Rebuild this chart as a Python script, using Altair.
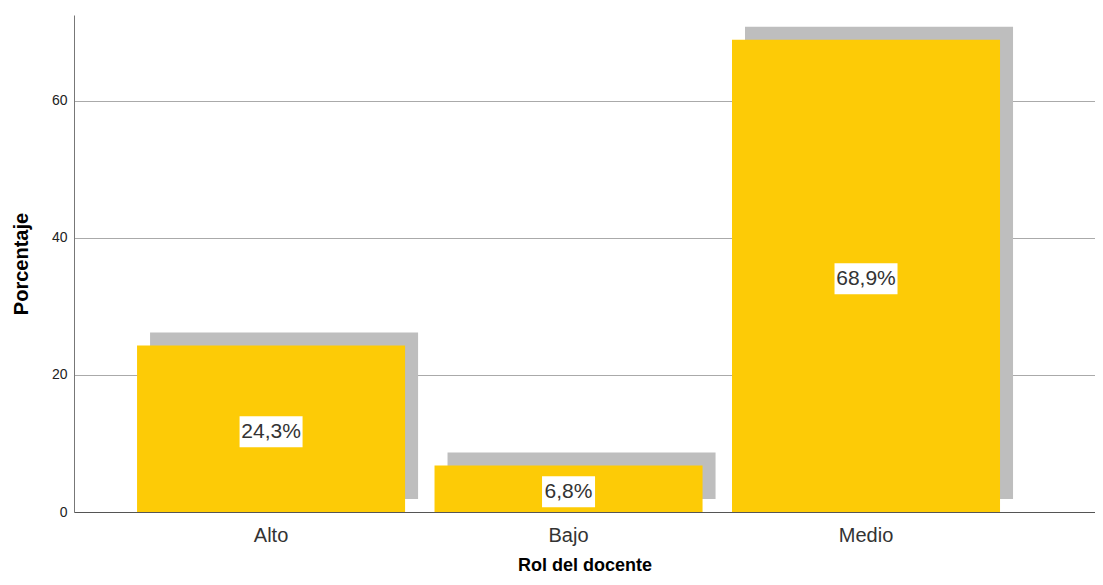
import altair as alt
import pandas as pd

categories = ["Alto", "Bajo", "Medio"]
percentages = [24.3, 6.8, 68.9]
value_labels = ["24,3%", "6,8%", "68,9%"]
y_ticks = [0, 20, 40, 60]

df = pd.DataFrame({"cat": categories, "pct": percentages, "label": value_labels})

FONT = "Liberation Sans"

xscale = alt.Scale(domain=categories, paddingInner=0.099, paddingOuter=0.2656, align=0.399)
yscale = alt.Scale(domain=[0, 72.5], nice=False, zero=True)

x_axis = alt.Axis(
    title="Rol del docente", labelAngle=0, ticks=False, grid=False,
    labelFontSize=20, labelPadding=13, labelColor="#333333", labelFont=FONT,
    titleFontSize=18, titleFontWeight="bold", titlePadding=11, titleColor="#000000", titleFont=FONT,
    domainColor="#555555", domainWidth=1,
)
y_axis = alt.Axis(
    title="Porcentaje", values=y_ticks, ticks=False, grid=True,
    gridColor="#aaaaaa", gridWidth=1,
    labelFontSize=14, labelPadding=7, labelColor="#222222", labelFont=FONT,
    titleFontSize=20, titleFontWeight="bold", titlePadding=20, titleColor="#000000", titleFont=FONT,
    domainColor="#777777", domainWidth=1,
)

x = alt.X("cat:N", scale=xscale, sort=categories, axis=x_axis)


def yenc(field):
    return alt.Y(field, scale=yscale, axis=y_axis)


base = alt.Chart(df)

shadow = base.mark_bar(
    color="#bebebe", xOffset=13, x2Offset=13, yOffset=-13, y2Offset=-13
).encode(
    x=x,
    y=yenc("pct:Q"),
)

bars = base.mark_bar(color="#fdcb06").encode(
    x=x,
    y=yenc("pct:Q"),
)

boxes = base.transform_calculate(
    w="length(datum.label) * 10 + 13",
).transform_calculate(
    mid="datum.pct / 2",
    sz="datum.w * datum.w",
    path="'M-1,' + (-31 / datum.w) + 'H1V' + (31 / datum.w) + 'H-1Z'",
).mark_point(filled=True, color="white", opacity=1, strokeWidth=0, yOffset=3).encode(
    x=x,
    y=yenc("mid:Q"),
    shape=alt.Shape("path:N", scale=None),
    size=alt.Size("sz:Q", scale=None),
)

texts = base.transform_calculate(
    mid="datum.pct / 2",
).mark_text(fontSize=21, font=FONT, color="#333333", baseline="middle", align="center", dy=3).encode(
    x=x,
    y=yenc("mid:Q"),
    text="label:N",
)

chart = alt.layer(shadow, bars, boxes, texts).properties(
    width=1021,
    height=497,
    autosize=alt.AutoSizeParams(type="none"),
    padding={"left": 66, "top": 7, "right": 0, "bottom": 65},
).configure_view(stroke=None)

chart.save("out.html", embed_options={"renderer": "svg", "actions": False})
